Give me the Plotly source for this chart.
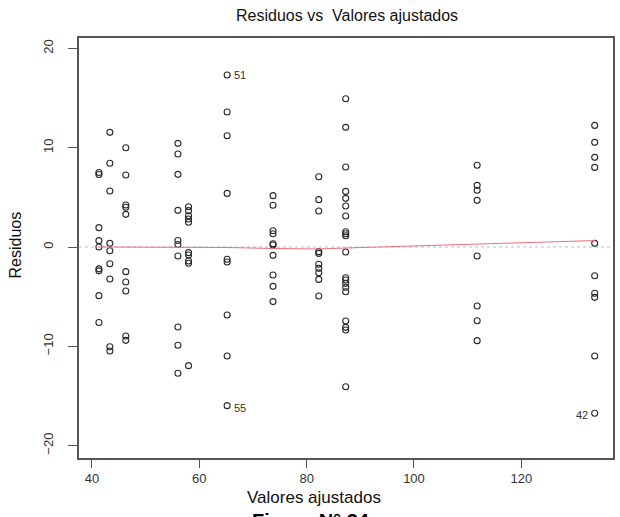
import plotly.graph_objects as go

# Fitted value of each group (one column of residuals per fitted value)
fitted_levels = [41.30, 43.34, 46.31, 56.02, 58.00, 65.19, 73.74, 82.26, 87.28, 111.77, 133.67]

# Residuals observed at each fitted value
residuals_by_group = [
    [7.5, 7.3, 1.95, 0.64, 0.0, -2.2, -2.4, -4.9, -7.6],
    [11.55, 8.43, 5.64, 0.37, -0.37, -1.68, -3.22, -10.04, -10.47],
    [10.0, 7.25, 4.23, 4.0, 3.29, -2.48, -3.52, -4.43, -8.96, -9.4],
    [10.44, 9.37, 7.32, 3.69, 0.65, 0.25, -0.9, -8.06, -9.9, -12.72],
    [4.06, 3.66, 3.15, 2.82, 2.49, -0.57, -0.8, -1.41, -1.64, -11.95],
    [17.32, 13.6, 11.2, 5.4, -1.24, -1.51, -6.85, -10.98, -15.98],
    [5.17, 4.2, 1.64, 1.34, 0.33, 0.2, -0.84, -2.82, -3.96, -5.5],
    [7.08, 4.77, 3.63, -0.47, -0.64, -1.74, -2.15, -2.59, -3.26, -4.93],
    [14.93, 12.05, 8.06, 5.6, 4.9, 4.13, 3.12, 1.54, 1.34, 1.14, -0.5,
     -3.09, -3.32, -3.66, -4.06, -4.5, -7.45, -8.09, -8.36, -14.07],
    [8.23, 6.21, 5.71, 4.7, -0.9, -5.94, -7.42, -9.43],
    [12.25, 10.54, 9.03, 8.02, 0.37, -2.89, -4.66, -5.07, -10.98, -16.75],
]

# Smoothed trend of residuals against fitted values
smooth_x = fitted_levels
smooth_y = [0.0, 0.0, 0.0, 0.0, 0.0, -0.05, -0.15, -0.2, -0.1, 0.3, 0.65]

# Observations flagged with their index
flag_ids = ["51", "55", "42"]
flag_x = [65.19, 65.19, 133.67]
flag_y = [17.32, -15.98, -16.75]
flag_side = ["right", "right", "left"]

x_ticks = [40, 60, 80, 100, 120]
y_ticks = [-20, -10, 0, 10, 20]

xs, ys = [], []
for fv, group in zip(fitted_levels, residuals_by_group):
    for r in group:
        xs.append(fv)
        ys.append(r)

FONT = "Liberation Sans, Arial, sans-serif"
X_RANGE = [37.59, 137.08]
Y_RANGE = [-21.25, 21.05]

fig = go.Figure()

# zero reference line
fig.add_trace(go.Scatter(
    x=X_RANGE, y=[0, 0], mode="lines",
    line=dict(color="#bdbdbd", width=1, dash="dot"),
    hoverinfo="skip", showlegend=False,
))

fig.add_trace(go.Scatter(
    x=xs, y=ys, mode="markers",
    marker=dict(symbol="circle-open", size=6, color="#2b2b2b",
                line=dict(width=1.1, color="#2b2b2b")),
    showlegend=False,
))

fig.add_trace(go.Scatter(
    x=smooth_x, y=smooth_y, mode="lines",
    line=dict(color="#ef6f7c", width=1),
    showlegend=False,
))

# index labels beside the flagged points
for fid, fx, fy, side in zip(flag_ids, flag_x, flag_y, flag_side):
    fig.add_annotation(
        x=fx, y=fy, text=fid, showarrow=False,
        xanchor="left" if side == "right" else "right",
        yanchor="middle",
        xshift=5 if side == "right" else -5,
        yshift=-2 if fy < 0 else 0,
        font=dict(family=FONT, size=11, color="#333333"),
    )

axis_common = dict(
    showgrid=False, zeroline=False,
    showline=True, mirror=True, linecolor="#555555", linewidth=1.5,
    ticks="outside", tickcolor="#555555", tickwidth=1,
    tickfont=dict(family=FONT, size=13, color="#333333"),
)

fig.update_xaxes(range=X_RANGE, tickvals=x_ticks, ticklen=8, **axis_common)
fig.update_yaxes(range=Y_RANGE, tickvals=y_ticks, ticklen=9,
                 tickangle=-90, ticklabelstandoff=10, **axis_common)

fig.update_layout(
    width=620, height=517,
    margin=dict(l=79, r=5, t=38, b=59),
    paper_bgcolor="white", plot_bgcolor="white",
    title=dict(text="Residuos vs\u00a0 Valores ajustados",
               x=0.502, xref="paper", xanchor="center",
               y=1 - 15 / 517, yanchor="middle",
               font=dict(family=FONT, size=16, color="#111111")),
)

fig.add_annotation(text="Valores ajustados", xref="paper", yref="paper",
                   x=0.440, y=-0.095, xanchor="center", yanchor="middle",
                   showarrow=False, font=dict(family=FONT, size=17, color="#111111"))
fig.add_annotation(text="Residuos", xref="paper", yref="paper",
                   x=-0.119, y=0.507, xanchor="center", yanchor="middle",
                   textangle=-90, showarrow=False,
                   font=dict(family=FONT, size=16, color="#111111"))
fig.add_annotation(text="<b>Figura N° 24</b>", xref="paper", yref="paper",
                   x=0.435, y=-0.119, xanchor="center", yanchor="top",
                   showarrow=False, font=dict(family=FONT, size=20, color="#000000"))

fig.write_html("out.html")
